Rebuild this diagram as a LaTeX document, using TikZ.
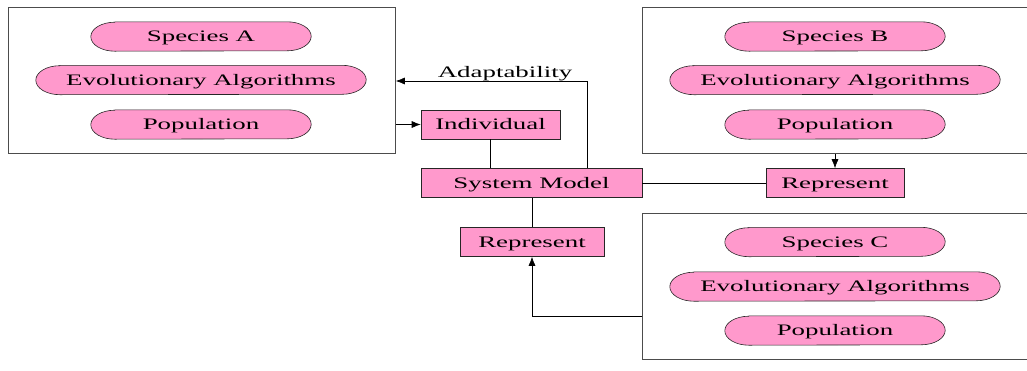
\documentclass[tikz,border=0pt]{standalone}
\usepackage{fontspec}
\setmainfont[FakeStretch=1.68]{Liberation Serif}
\usetikzlibrary{arrows.meta,calc,backgrounds}
\definecolor{pinkfill}{HTML}{FF99CC}
\tikzset{
  label font/.style={font=\fontsize{16}{18}\selectfont, text height=10.6pt, text depth=0pt},
  group/.style={draw=black!70, line width=0.8pt, anchor=north west, minimum height=146pt},
  oval/.style={inner sep=0pt, minimum height=29pt, label font},
  short/.style={oval, minimum width=220pt},
  long/.style={oval, minimum width=330pt},
  ovalline/.style={draw=black!85, fill=pinkfill, line width=0.6pt},
  block/.style={draw=black!85, fill=pinkfill, line width=0.6pt, minimum height=29pt,
    inner sep=0pt, label font},
  link/.style={line width=0.6pt, draw=black},
  arrow/.style={link, -{Latex[length=9pt,width=7pt]}}
}
% outline with half-elliptic ends around a named node
\newcommand\stadiumline[1]{%
  \path[ovalline] ($(#1.north west)+(24,0)$) -- ($(#1.north east)+(-24,0)$)
    arc[start angle=-90, end angle=90, x radius=24, y radius=14.5]
    -- ($(#1.south west)+(24,0)$)
    arc[start angle=90, end angle=270, x radius=24, y radius=14.5] -- cycle;}
\begin{document}
\begin{tikzpicture}[x=1pt,y=-1pt]
\useasboundingbox (0,0) rectangle (1027,370);
\begin{scope}
\clip (0,0) rectangle (1027,370);
% species groups
\node[group, minimum width=387pt] (boxA) at (8,7) {};
\node[group, minimum width=420pt] (boxB) at (642,7) {};
\node[group, minimum width=420pt] (boxC) at (642,213) {};
\end{scope}

\node[short] (spA) at (201,36.5) {Species A};
\node[long]  (eaA) at (201,80) {Evolutionary Algorithms};
\node[short] (popA) at (201,124.5) {Population};

\node[short] (spB) at (835,36.5) {Species B};
\node[long]  (eaB) at (835,80) {Evolutionary Algorithms};
\node[short] (popB) at (835,124.5) {Population};

\node[short] (spC) at (835,242) {Species C};
\node[long]  (eaC) at (835,286.5) {Evolutionary Algorithms};
\node[short] (popC) at (835,330.5) {Population};

\begin{pgfonlayer}{background}
\foreach \n in {spA,eaA,popA,spB,eaB,popB,spC,eaC,popC}{\stadiumline{\n}}
\end{pgfonlayer}

% central blocks
\node[block, minimum width=139pt] (ind) at (490.5,124.5) {Individual};
\node[block, minimum width=221pt] (sm) at (531.5,183) {System Model};
\node[block, minimum width=144pt] (repL) at (532,242) {Represent};
\node[block, minimum width=138pt] (repB) at (835,183) {Represent};

% connectors
\coordinate (adapt) at (587,81);
\coordinate (cin) at (642,316);
\draw[arrow] (sm.north -| adapt) -- (adapt) -- (adapt -| boxA.east);
\node[label font, inner sep=0pt] (adlabel) at (505,72) {Adaptability};
\draw[arrow] (boxA.east |- ind) -- (ind.west);
\draw[link] (ind.south) -- (ind.south |- sm.north);
\draw[link] (sm.south -| repL) -- (repL.north);
\draw[arrow] (cin) -- (cin -| repL) -- (repL.south);
\draw[link] (sm.east) -- (repB.west);
\draw[arrow] (boxB.south -| repB) -- (repB.north);
\end{tikzpicture}
\end{document}
